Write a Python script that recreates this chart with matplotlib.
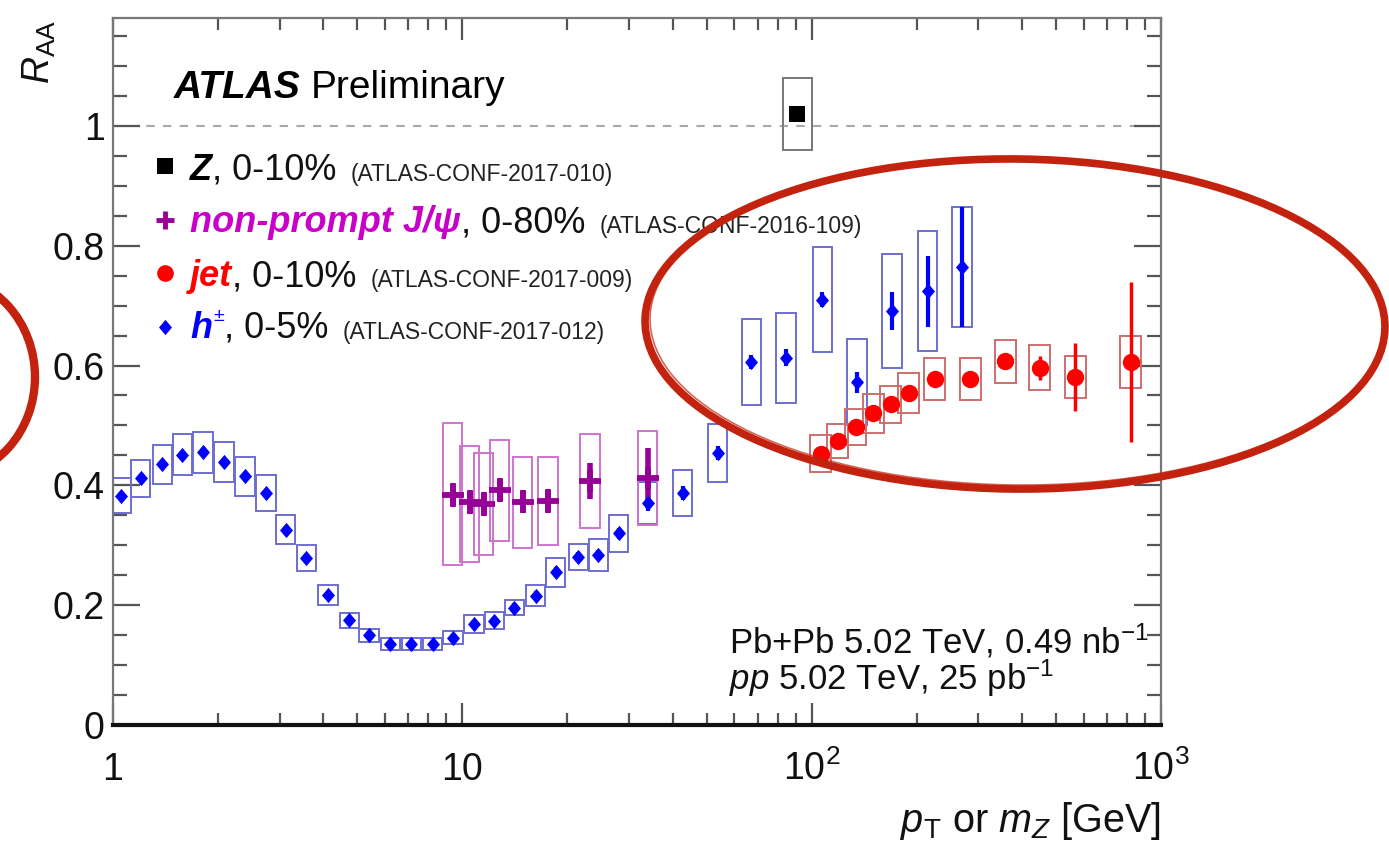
import matplotlib
matplotlib.use('Agg')
import matplotlib.pyplot as plt
from matplotlib.patches import Rectangle, Ellipse
from matplotlib.ticker import NullFormatter, MultipleLocator, LogLocator

plt.rcParams['font.family'] = ['Liberation Sans', 'DejaVu Sans']
plt.rcParams['mathtext.fontset'] = 'custom'
plt.rcParams['mathtext.rm'] = 'Liberation Sans'
plt.rcParams['mathtext.it'] = 'Liberation Sans:italic'
plt.rcParams['mathtext.bf'] = 'Liberation Sans:bold'

# ---------------- data ----------------
# charged hadrons h+-, 0-5%
h_pt = [1.055, 1.20, 1.385, 1.58, 1.81, 2.08, 2.39, 2.74, 3.12, 3.58, 4.12, 4.75,
        5.41, 6.22, 7.15, 8.22, 9.39, 10.8, 12.36, 14.1, 16.2, 18.5, 21.5, 24.5,
        28.0, 33.9, 42.7, 53.8, 67.2, 84.5, 107.4, 134.8, 169.8, 214.8, 269.0]
h_raa = [0.383, 0.412, 0.435, 0.451, 0.455, 0.439, 0.415, 0.387, 0.326, 0.279, 0.217, 0.175,
         0.150, 0.135, 0.135, 0.135, 0.146, 0.169, 0.174, 0.196, 0.216, 0.255, 0.280, 0.284,
         0.320, 0.370, 0.387, 0.454, 0.606, 0.613, 0.710, 0.572, 0.691, 0.724, 0.764]
h_stat = [0.006, 0.006, 0.006, 0.006, 0.006, 0.006, 0.006, 0.006, 0.006, 0.006, 0.006, 0.006,
          0.006, 0.006, 0.006, 0.006, 0.006, 0.007, 0.007, 0.007, 0.007, 0.008, 0.008, 0.008,
          0.009, 0.012, 0.012, 0.012, 0.012, 0.014, 0.012, 0.018, 0.032, 0.059, 0.100]
h_sys = [0.029, 0.031, 0.033, 0.034, 0.034, 0.033, 0.032, 0.030, 0.024, 0.022, 0.017, 0.0125,
         0.011, 0.010, 0.010, 0.010, 0.011, 0.015, 0.014, 0.013, 0.017, 0.024, 0.022, 0.027,
         0.031, 0.035, 0.039, 0.049, 0.072, 0.075, 0.088, 0.072, 0.095, 0.100, 0.100]

# non-prompt J/psi, 0-80%
jpsi_pt = [9.39, 10.5, 11.5, 12.8, 14.9, 17.6, 23.2, 33.9]
jpsi_raa = [0.384, 0.372, 0.369, 0.393, 0.373, 0.374, 0.407, 0.412]
jpsi_stat = [0.020, 0.020, 0.020, 0.020, 0.020, 0.020, 0.030, 0.050]
jpsi_sys_lo = [0.267, 0.272, 0.283, 0.307, 0.295, 0.301, 0.329, 0.334]
jpsi_sys_hi = [0.504, 0.465, 0.454, 0.475, 0.448, 0.448, 0.485, 0.490]

# jets, 0-10%
jet_pt = [106.0, 118.7, 133.6, 149.9, 168.3, 189.4, 225.3, 284.6, 358.0, 449.6, 569.0, 820.0]
jet_raa = [0.453, 0.474, 0.498, 0.520, 0.535, 0.554, 0.577, 0.577, 0.607, 0.596, 0.581, 0.606]
jet_stat = [0.008, 0.008, 0.008, 0.008, 0.008, 0.009, 0.010, 0.010, 0.012, 0.020, 0.057, 0.133]
jet_sys = [0.031, 0.029, 0.030, 0.032, 0.031, 0.033, 0.035, 0.035, 0.036, 0.0375, 0.035, 0.043]

# Z boson, 0-10%
z_m = [91.0]
z_raa = [1.02]
z_stat = [0.010]
z_sys = [0.060]

x_ticks = [1, 10, 100, 1000]
x_ticklabels = ['1', '10', r'$\mathregular{10^{2}}$', r'$\mathregular{10^{3}}$']
y_ticks = [0, 0.2, 0.4, 0.6, 0.8, 1.0]
y_ticklabels = ['0', '0.2', '0.4', '0.6', '0.8', '1']

# ---------------- styles ----------------
C_H, C_HBOX = '#0000ff', '#6e6ed0'
C_J, C_JBOX, C_JTXT = '#960096', '#cf73cf', '#c800c8'
C_JET, C_JETBOX = '#ff0000', '#cc6e6e'
C_Z, C_ZBOX = '#000000', '#777777'
C_RED = '#c3230e'
DIAMOND = [(0, 1), (0.85, 0), (0, -1), (-0.85, 0), (0, 1)]

fig = plt.figure(figsize=(13.89, 8.5), dpi=100)
ax = fig.add_axes([113 / 1389, 125 / 850, 1048 / 1389, 707 / 850])
ax.set_xscale('log')
ax.set_xlim(1, 1000)
ax.set_ylim(0, 1.18)

ax.axhline(1.0, color='#a8a8a8', lw=1.5, ls=(0, (4, 4)), zorder=1)


def boxes(xs, lo, hi, hw, color):
    for x, a, b in zip(xs, lo, hi):
        ax.add_patch(Rectangle((x * 10 ** (-hw), a), x * 10 ** hw - x * 10 ** (-hw), b - a,
                               fill=False, ec=color, lw=1.4, zorder=2))


boxes(h_pt, [v - s for v, s in zip(h_raa, h_sys)], [v + s for v, s in zip(h_raa, h_sys)], 0.028, C_HBOX)
boxes(jpsi_pt, jpsi_sys_lo, jpsi_sys_hi, 0.0275, C_JBOX)
boxes(jet_pt, [v - s for v, s in zip(jet_raa, jet_sys)], [v + s for v, s in zip(jet_raa, jet_sys)], 0.030, C_JETBOX)
boxes(z_m, [v - s for v, s in zip(z_raa, z_sys)], [v + s for v, s in zip(z_raa, z_sys)], 0.042, C_ZBOX)

ax.errorbar(h_pt, h_raa, yerr=h_stat, fmt='none', ecolor=C_H, elinewidth=3, capsize=0, zorder=4)
ax.plot(h_pt, h_raa, ls='none', marker=DIAMOND, color=C_H, ms=11, mew=0, zorder=5)
ax.errorbar(jpsi_pt, jpsi_raa, yerr=jpsi_stat, fmt='+', color=C_J, ms=16, mew=4.2, elinewidth=4, capsize=0, zorder=4)
ax.errorbar(jet_pt, jet_raa, yerr=jet_stat, fmt='o', color=C_JET, ms=12.5, mew=0, elinewidth=2.5, capsize=0, zorder=4)
ax.errorbar(z_m, z_raa, yerr=z_stat, fmt='s', color=C_Z, ms=11, mew=0, elinewidth=2, capsize=0, zorder=4)

# ---------------- axes styling ----------------
ax.set_xticks(x_ticks, labels=x_ticklabels)
ax.xaxis.set_minor_locator(LogLocator(base=10, subs=[2, 3, 4, 5, 6, 7, 8, 9]))
ax.xaxis.set_minor_formatter(NullFormatter())
ax.set_yticks(y_ticks, labels=y_ticklabels)
ax.yaxis.set_minor_locator(MultipleLocator(0.05))
ax.tick_params(which='both', direction='in', top=True, right=True, color='#555555', width=1.6,
               labelsize=27, labelcolor='#111111')
ax.tick_params(axis='x', which='major', length=16, pad=39.5)
ax.tick_params(axis='x', which='minor', length=8.5)
ax.tick_params(axis='y', which='major', length=19.5, pad=6)
ax.tick_params(axis='y', which='minor', length=10)
for lab in ax.get_xticklabels():
    lab.set_va('baseline')
for side in ['left', 'top', 'right']:
    ax.spines[side].set_color('#777777')
    ax.spines[side].set_linewidth(1.6)
ax.spines['bottom'].set_color('#111111')
ax.spines['bottom'].set_linewidth(3)

ax.set_xlabel(r'$p_{\mathregular{T}}$ or $m_{Z}$ [GeV]', fontsize=28.5, ha='right', va='baseline', color='#111111')
ax.xaxis.set_label_coords(1.0, -0.151)
ax.set_ylabel(r'$R_{\mathregular{AA}}$', fontsize=27, rotation=90, rotation_mode='anchor',
              ha='right', va='baseline', color='#111111')
ax.yaxis.set_label_coords(-0.060, 0.997)

# ---------------- texts ----------------
t = ax.text(0.058, 0.887, 'ATLAS', transform=ax.transAxes, fontsize=28, fontweight='bold',
            style='italic', va='baseline', ha='left')
ax.annotate('Preliminary', xy=(1, 0), xycoords=t, xytext=(7, 0), textcoords='offset points',
            fontsize=28, va='bottom', ha='left')

ax.text(0.5878, 0.1018, r'Pb+Pb 5.02 TeV, 0.49 nb$^{\mathregular{-1}}$', transform=ax.transAxes,
        fontsize=25, va='baseline', ha='left', color='#111111')
ax.text(0.5878, 0.0495, r'$pp$ 5.02 TeV, 25 pb$^{\mathregular{-1}}$', transform=ax.transAxes,
        fontsize=25, va='baseline', ha='left', color='#111111')

# legend (built by hand because of mixed styles)
leg_rows = [
    ('s', C_Z, 12, 0, 'Z', C_Z, None, ', 0-10%', '(ATLAS-CONF-2017-010)'),
    ('+', C_J, 13, 3.5, 'non-prompt J/ψ', C_JTXT, None, ', 0-80%', '(ATLAS-CONF-2016-109)'),
    ('o', C_JET, 12, 0, 'jet', C_JET, None, ', 0-10%', '(ATLAS-CONF-2017-009)'),
    (DIAMOND, C_H, 11, 0, 'h', C_H, '±', ', 0-5%', '(ATLAS-CONF-2017-012)'),
]
mark_y = [0.7907, 0.7143, 0.6393, 0.5629]
base_y = [0.7709, 0.6973, 0.6209, 0.5474]
for (mk, mc, ms, mw, name, ncol, sup, cent, conf), my, by in zip(leg_rows, mark_y, base_y):
    ax.plot([0.0496], [my], marker=mk, color=mc, ms=ms, mew=mw, ls='none',
            transform=ax.transAxes, clip_on=False)
    tn = ax.text(0.0735, by, name, transform=ax.transAxes, fontsize=26, fontweight='bold',
                 style='italic', color=ncol, va='baseline', ha='left')
    prev = tn
    if sup is not None:
        prev = ax.annotate(sup, xy=(1, 1), xycoords=tn, xytext=(1, 2), textcoords='offset points',
                           fontsize=14, color=ncol, va='top', ha='left')
    tc = ax.annotate(cent, xy=(1, 0), xycoords=(prev, tn), xytext=(0, 0), textcoords='offset points',
                     fontsize=26, va='bottom', ha='left', color='#111111')
    ax.annotate(conf, xy=(1, 0), xycoords=tc, xytext=(10, 1.5), textcoords='offset points',
                fontsize=16.5, va='bottom', ha='left', color='#222222')

# ---------------- hand-drawn red ellipses ----------------
fig.add_artist(Ellipse((1015 / 1389, 1 - 324 / 850), 740 / 1389, 330 / 850, angle=-1.5,
                       transform=fig.transFigure, fill=False, ec=C_RED, lw=5.5, zorder=10))
fig.add_artist(Ellipse((1017 / 1389, 1 - 322 / 850), 734 / 1389, 326 / 850, angle=-1.5,
                       transform=fig.transFigure, fill=False, ec=C_RED, lw=1.2, alpha=0.7, zorder=10))
fig.add_artist(Ellipse((-55 / 1389, 1 - 377 / 850), 180 / 1389, 200 / 850,
                       transform=fig.transFigure, fill=False, ec=C_RED, lw=6, zorder=10))

fig.savefig('out.png', dpi=100)
